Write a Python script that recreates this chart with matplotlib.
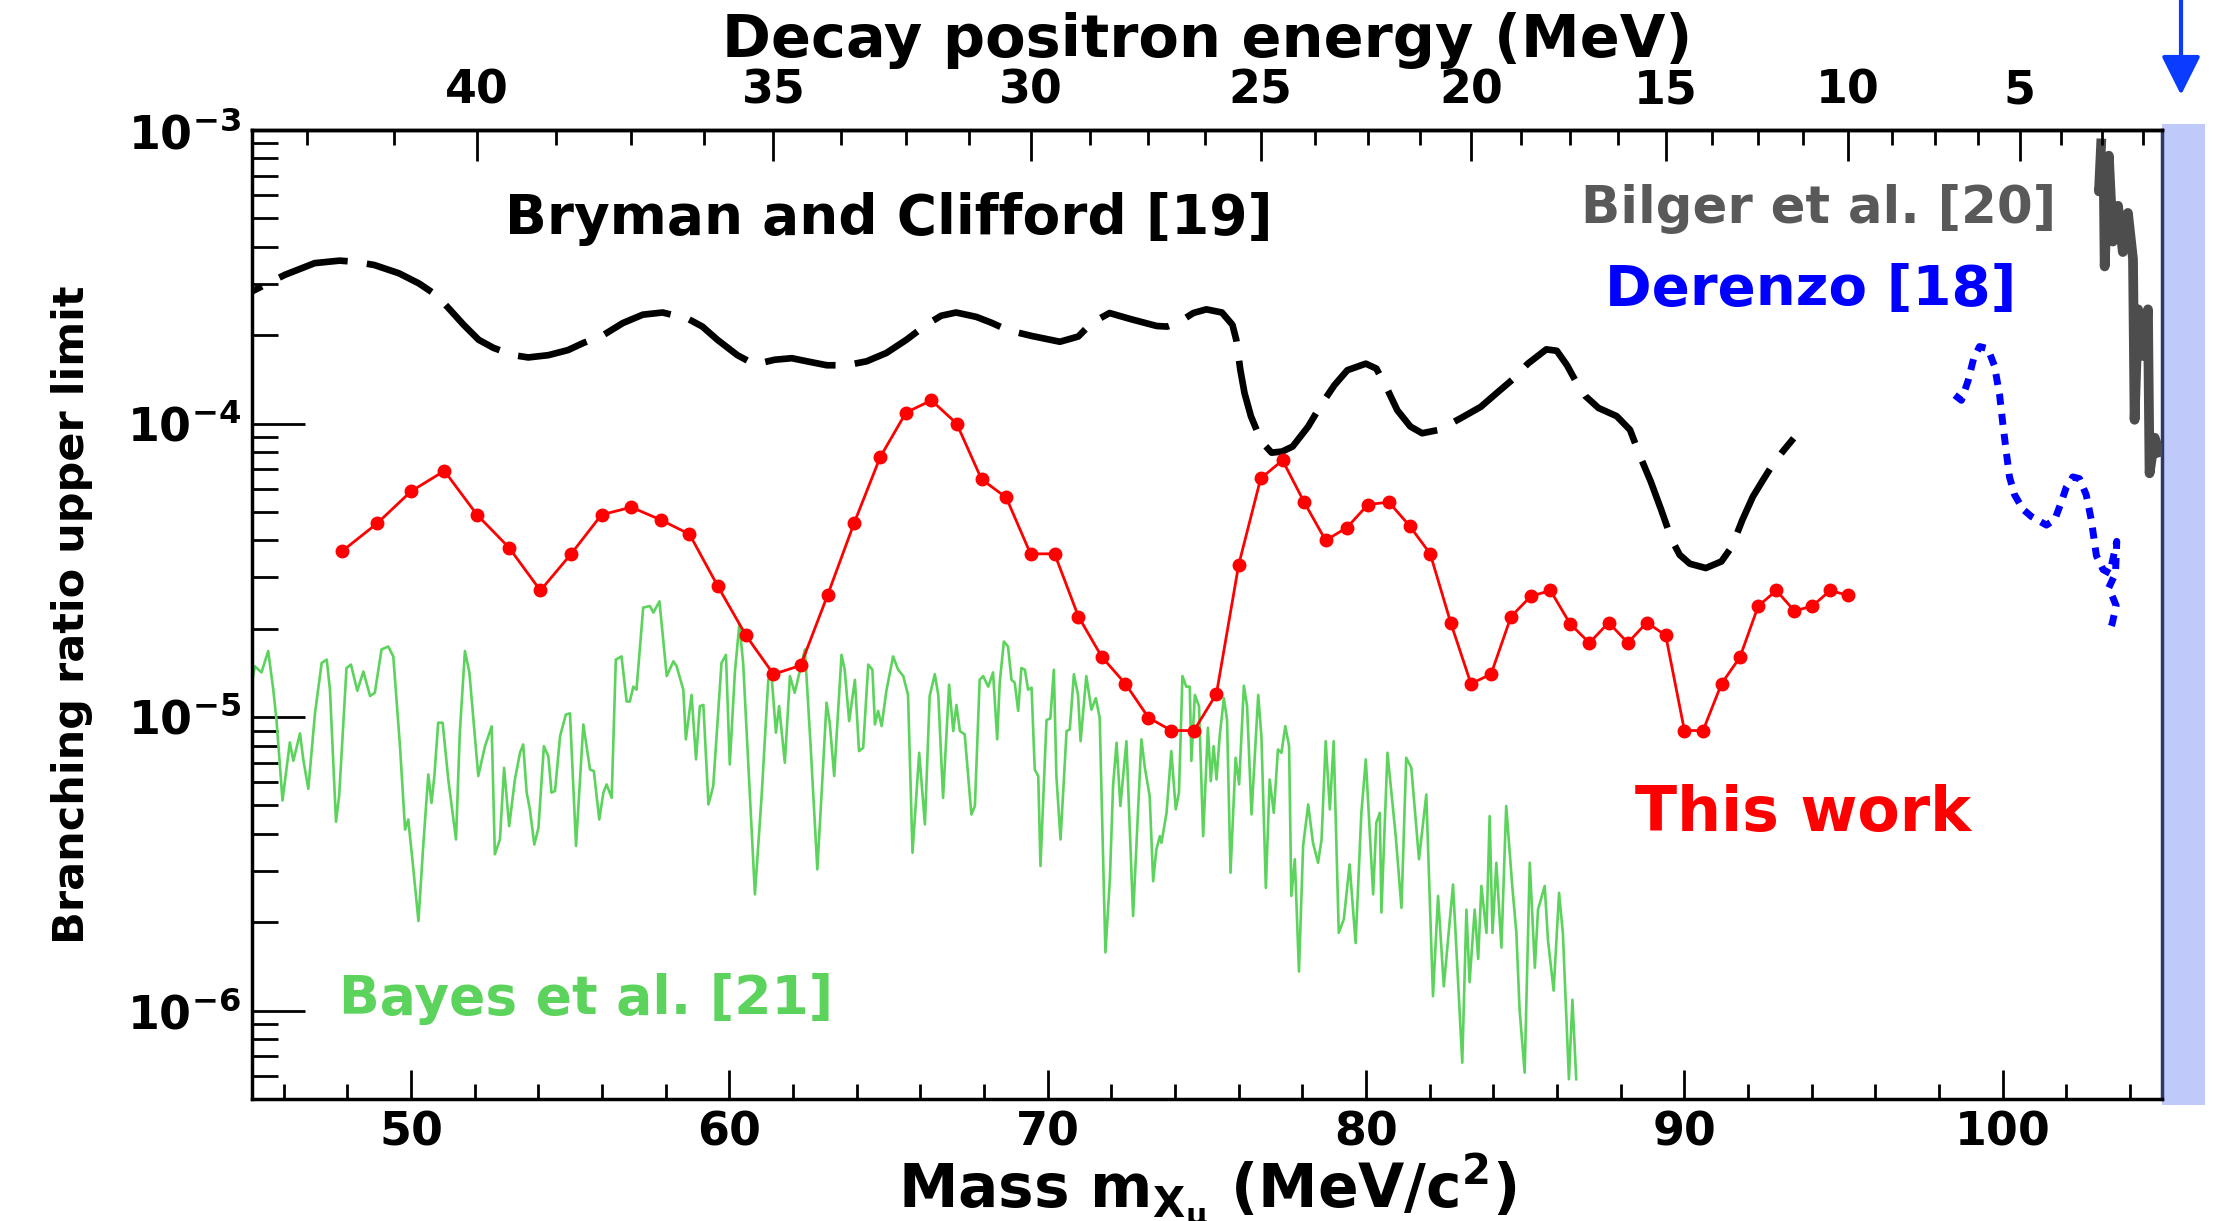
import numpy as np
import matplotlib
matplotlib.use("Agg")
import matplotlib.pyplot as plt
from matplotlib.ticker import MultipleLocator, LogLocator, NullFormatter

plt.rcParams['font.family'] = ['DejaVu Sans']
plt.rcParams['font.weight'] = 'bold'
plt.rcParams['axes.labelweight'] = 'bold'
plt.rcParams['mathtext.fontset'] = 'dejavusans'
plt.rcParams['mathtext.default'] = 'bf'

M_MU = 105.658
M_E = 0.511

# ---------------- data ----------------
# "This work": measured on a 0.5 MeV positron-energy grid
this_work_energy = np.arange(42.0, 9.75, -0.5)
this_work_limit = [3.68e-5, 4.57e-5, 5.88e-5, 6.9e-5, 4.89e-5, 3.78e-5, 2.70e-5, 3.6e-5, 4.89e-5, 5.19e-5,
                   4.70e-5, 4.2e-5, 2.79e-5, 1.90e-5, 1.40e-5, 1.50e-5, 2.60e-5, 4.57e-5, 7.68e-5, 1.09e-4,
                   1.2e-4, 1.0e-4, 6.46e-5, 5.6e-5, 3.6e-5, 3.6e-5, 2.2e-5, 1.6e-5, 1.30e-5, 9.96e-6,
                   9.0e-6, 9.0e-6, 1.2e-5, 3.3e-5, 6.5e-5, 7.5e-5, 5.4e-5, 4.0e-5, 4.42e-5, 5.3e-5,
                   5.4e-5, 4.48e-5, 3.6e-5, 2.1e-5, 1.3e-5, 1.4e-5, 2.2e-5, 2.58e-5, 2.7e-5, 2.08e-5,
                   1.79e-5, 2.1e-5, 1.79e-5, 2.1e-5, 1.9e-5, 9.0e-6, 9.0e-6, 1.3e-5, 1.6e-5, 2.39e-5,
                   2.7e-5, 2.3e-5, 2.39e-5, 2.7e-5, 2.6e-5]

bryman_mass = [45.00, 46.03, 46.97, 47.75, 48.22, 48.84, 49.62, 50.25, 50.79, 51.18,
               51.65, 52.12, 52.59, 53.22, 53.68, 54.31, 54.93, 55.40, 56.03, 56.65,
               57.28, 57.90, 58.68, 59.15, 59.62, 60.25, 60.79, 61.42, 61.96, 62.43,
               63.06, 63.68, 64.31, 64.93, 65.56, 66.18, 66.65, 67.12, 67.75, 68.21,
               68.75,
               69.48, 70.38, 70.96, 71.37, 71.94, 72.60, 73.42, 73.75, 74.08, 74.57,
               74.98, 75.47, 75.80, 75.92, 76.05, 76.18, 76.38, 76.71, 77.03, 77.36,
               77.69, 78.18, 78.59, 79.00, 79.41, 79.99, 80.32, 80.65, 80.98, 81.39,
               81.76, 82.29, 82.95, 83.60, 84.10, 84.59, 85.08, 85.66, 85.99, 86.31,
               86.56, 86.89, 87.30, 87.87, 88.29, 88.61, 88.94, 89.27, 89.60, 89.85,
               90.17, 90.67, 91.16, 91.49, 91.82, 92.15, 92.47, 92.80, 93.13, 93.43]
bryman_limit = [2.82e-4, 3.21e-4, 3.52e-4, 3.59e-4, 3.56e-4, 3.47e-4, 3.25e-4, 3.00e-4, 2.74e-4, 2.47e-4,
                2.17e-4, 1.93e-4, 1.81e-4, 1.71e-4, 1.68e-4, 1.71e-4, 1.78e-4, 1.88e-4, 2.00e-4, 2.20e-4,
                2.35e-4, 2.39e-4, 2.28e-4, 2.14e-4, 1.93e-4, 1.71e-4, 1.59e-4, 1.65e-4, 1.67e-4, 1.63e-4,
                1.58e-4, 1.58e-4, 1.63e-4, 1.74e-4, 1.93e-4, 2.17e-4, 2.33e-4, 2.39e-4, 2.31e-4, 2.21e-4,
                2.08e-4,
                1.99e-4, 1.90e-4, 1.98e-4, 2.20e-4, 2.38e-4, 2.27e-4, 2.15e-4, 2.14e-4, 2.20e-4, 2.38e-4,
                2.45e-4, 2.39e-4, 2.17e-4, 1.93e-4, 1.52e-4, 1.27e-4, 1.06e-4, 8.69e-5, 7.96e-5, 8.03e-5,
                8.35e-5, 9.77e-5, 1.16e-4, 1.35e-4, 1.52e-4, 1.60e-4, 1.54e-4, 1.32e-4, 1.11e-4, 9.77e-5,
                9.27e-5, 9.52e-5, 1.04e-4, 1.14e-4, 1.27e-4, 1.41e-4, 1.60e-4, 1.79e-4, 1.77e-4, 1.58e-4,
                1.41e-4, 1.24e-4, 1.13e-4, 1.06e-4, 9.52e-5, 7.72e-5, 6.35e-5, 5.08e-5, 4.02e-5, 3.57e-5,
                3.33e-5, 3.22e-5, 3.39e-5, 3.81e-5, 4.70e-5, 5.64e-5, 6.43e-5, 7.33e-5, 8.14e-5, 8.91e-5]

bayes_mass = [45.00, 45.09, 45.30, 45.51, 45.67, 45.77, 45.96, 46.19, 46.30, 46.51,
              46.61, 46.77, 46.98, 47.19, 47.35, 47.45, 47.64, 47.74, 47.97, 48.11,
              48.31, 48.50, 48.71, 48.86, 49.07, 49.28, 49.44, 49.65, 49.81, 49.91,
              50.05, 50.23, 50.38, 50.54, 50.64, 50.73, 50.85, 50.99, 51.17, 51.41,
              51.53, 51.69, 51.83, 52.11, 52.32, 52.53, 52.63, 52.79, 52.92, 53.08,
              53.26, 53.42, 53.52, 53.63, 53.73, 53.87, 54.00, 54.17, 54.31, 54.41,
              54.52, 54.68, 54.86, 54.99, 55.18, 55.41, 55.62, 55.74, 55.91, 56.04,
              56.14, 56.30, 56.43, 56.61, 56.77, 56.87, 56.98, 57.08, 57.29, 57.50,
              57.61, 57.80, 58.03, 58.24, 58.34, 58.55, 58.63, 58.81, 58.95, 59.07,
              59.18, 59.34,
              59.49, 59.75, 59.89, 60.01, 60.17, 60.31, 60.43, 60.80, 61.01, 61.22,
              61.32, 61.46, 61.56, 61.74, 61.90, 62.05, 62.37, 62.55, 62.76, 62.89,
              63.05, 63.15, 63.29, 63.52, 63.62, 63.76, 63.94, 64.07, 64.20, 64.36,
              64.49, 64.57, 64.67, 64.78, 64.93, 65.14, 65.30, 65.46, 65.61, 65.75,
              65.96, 66.14, 66.29, 66.45, 66.56, 66.71, 66.90, 67.03, 67.13, 67.24,
              67.39, 67.60, 67.71, 67.86, 67.97, 68.13, 68.28, 68.41, 68.49, 68.62,
              68.75, 68.86, 68.96, 69.07, 69.17, 69.28, 69.38, 69.49, 69.59, 69.70,
              69.77, 69.96, 70.08, 70.19, 70.27, 70.40, 70.59, 70.69, 70.82, 70.95,
              71.03, 71.21, 71.37, 71.51, 71.63, 71.81, 71.95, 72.05, 72.16, 72.28,
              72.47, 72.68, 72.94, 73.05, 73.20, 73.31, 73.41, 73.52,
              73.57, 73.73, 73.88, 74.02, 74.12, 74.23, 74.35, 74.46, 74.51, 74.62,
              74.75, 74.88, 75.03, 75.12, 75.21, 75.30, 75.40, 75.53, 75.63, 75.74,
              75.90, 76.01, 76.16, 76.26, 76.40, 76.61, 76.71, 76.85, 76.97, 77.10,
              77.23, 77.34, 77.46, 77.58, 77.65, 77.76, 77.89, 78.02, 78.18, 78.33,
              78.49, 78.60, 78.73, 78.86, 78.98, 79.14, 79.30, 79.48, 79.67, 79.85,
              79.99, 80.22, 80.32, 80.43, 80.48, 80.67, 80.93, 81.11, 81.26, 81.42,
              81.66, 81.89, 82.10, 82.26, 82.44, 82.73, 83.02, 83.15, 83.25, 83.41,
              83.52, 83.62, 83.78, 83.88, 83.97, 84.09, 84.25, 84.40, 84.59, 84.72,
              84.82, 84.98, 85.14, 85.30, 85.40, 85.61, 85.71, 85.89, 86.06, 86.18,
              86.37, 86.48, 86.60]
bayes_limit = [1.31e-5, 1.49e-5, 1.42e-5, 1.68e-5, 1.24e-5, 9.8e-6, 5.2e-6, 8.2e-6, 7.1e-6, 8.8e-6,
               7.2e-6, 5.7e-6, 1.03e-5, 1.53e-5, 1.57e-5, 1.24e-5, 4.4e-6, 5.4e-6, 1.47e-5, 1.51e-5,
               1.23e-5, 1.43e-5, 1.18e-5, 1.21e-5, 1.70e-5, 1.74e-5, 1.61e-5, 7.96e-6, 4.14e-6, 4.48e-6,
               3.19e-6, 2.02e-6, 3.64e-6, 6.38e-6, 5.1e-6, 6.3e-6, 9.57e-6, 9.57e-6, 6.1e-6, 3.83e-6,
               8.87e-6, 1.68e-5, 1.42e-5, 6.3e-6, 7.96e-6, 9.3e-6, 3.41e-6, 3.83e-6, 6.72e-6, 4.25e-6,
               6.13e-6, 7.56e-6, 8.07e-6, 5.53e-6, 4.85e-6, 3.68e-6, 4.2e-6, 7.96e-6, 7.36e-6, 5.53e-6,
               5.6e-6, 8.62e-6, 1.02e-5, 1.03e-5, 3.64e-6, 9.44e-6, 6.63e-6, 6.55e-6, 4.48e-6, 5.53e-6,
               5.9e-6, 5.31e-6, 1.57e-5, 1.61e-5, 1.13e-5, 1.13e-5, 1.27e-5, 1.24e-5, 2.36e-5, 2.39e-5,
               2.27e-5, 2.48e-5, 1.38e-5, 1.55e-5, 1.49e-5, 1.24e-5, 8.4e-6, 1.19e-5, 7.18e-6, 1.09e-5,
               1.10e-5, 5.04e-6,
               5.82e-6, 1.53e-5, 1.63e-5, 6.9e-6, 1.42e-5, 2.07e-5, 1.53e-5, 2.49e-6, 5.38e-6, 1.34e-5,
               1.40e-5, 8.85e-6, 1.09e-5, 6.99e-6, 1.38e-5, 1.21e-5, 1.70e-5, 7.96e-6, 3.03e-6, 5.38e-6,
               1.12e-5, 9.57e-6, 6.3e-6, 1.63e-5, 1.45e-5, 9.69e-6, 1.34e-5, 7.66e-6, 7.86e-6, 1.51e-5,
               1.45e-5, 9.44e-6, 1.05e-5, 9.32e-6, 1.23e-5, 1.61e-5, 1.45e-5, 1.38e-5, 1.19e-5, 3.45e-6,
               7.56e-6, 4.31e-6, 1.18e-5, 1.40e-5, 1.19e-5, 5.31e-6, 1.29e-5, 8.96e-6, 1.10e-5, 8.96e-6,
               8.73e-6, 4.66e-6, 4.98e-6, 1.34e-5, 1.38e-5, 1.27e-5, 1.42e-5, 8.4e-6, 1.31e-5, 1.81e-5,
               1.74e-5, 1.34e-5, 1.31e-5, 1.05e-5, 1.47e-5, 1.45e-5, 1.24e-5, 1.26e-5, 6.63e-6, 6.3e-6,
               3.11e-6, 9.77e-6, 9.9e-6, 1.45e-5, 6.3e-6, 3.83e-6, 8.96e-6, 9.08e-6, 1.40e-5, 1.19e-5,
               8.28e-6, 1.38e-5, 1.06e-5, 1.16e-5, 9.95e-6, 1.58e-6, 2.80e-6, 5.82e-6, 8.18e-6, 4.98e-6,
               8.28e-6, 2.10e-6, 8.4e-6, 6.72e-6, 5.38e-6, 2.76e-6, 3.54e-6, 3.93e-6,
               3.73e-6, 4.72e-6, 7.66e-6, 4.85e-6, 5.53e-6, 1.38e-5, 1.27e-5, 1.27e-5, 7.09e-6, 1.19e-5,
               1.09e-5, 3.93e-6, 9.2e-6, 6.05e-6, 7.96e-6, 6.13e-6, 8.62e-6, 1.16e-5, 9.82e-6, 2.95e-6,
               7.27e-6, 5.9e-6, 1.28e-5, 1.09e-5, 4.66e-6, 1.19e-5, 8.62e-6, 2.62e-6, 6.13e-6, 4.72e-6,
               7.76e-6, 7.56e-6, 9.32e-6, 7.96e-6, 2.46e-6, 3.28e-6, 1.36e-6, 3.64e-6, 5.04e-6, 3.73e-6,
               3.19e-6, 3.83e-6, 8.28e-6, 4.85e-6, 8.28e-6, 1.84e-6, 2.05e-6, 3.15e-6, 1.70e-6, 4.72e-6,
               7.18e-6, 2.49e-6, 4.37e-6, 4.72e-6, 2.16e-6, 7.56e-6, 3.93e-6, 2.24e-6, 7.27e-6, 6.72e-6,
               3.28e-6, 5.45e-6, 1.12e-6, 2.46e-6, 1.21e-6, 2.69e-6, 6.65e-7, 2.21e-6, 1.25e-6, 2.21e-6,
               1.50e-6, 2.66e-6, 1.84e-6, 4.60e-6, 1.84e-6, 3.19e-6, 1.64e-6, 4.98e-6, 2.66e-6, 1.84e-6,
               1.01e-6, 6.15e-7, 3.19e-6, 1.40e-6, 2.21e-6, 2.66e-6, 1.75e-6, 1.17e-6, 2.52e-6, 1.84e-6,
               5.84e-7, 1.09e-6, 5.84e-7]

derenzo_mass = [98.49, 98.70, 98.91, 99.08, 99.27, 99.53, 99.74, 99.90, 100.00, 100.11,
                100.21, 100.37, 100.63, 100.89, 101.37, 101.63, 101.84, 101.99, 102.20, 102.41,
                102.62, 102.78, 102.94, 103.15, 103.36, 103.58, 103.54, 103.33, 103.56, 103.44,
                103.36]
derenzo_limit = [1.25e-4, 1.20e-4, 1.40e-4, 1.66e-4, 1.83e-4, 1.80e-4, 1.57e-4, 1.25e-4, 1.00e-4, 8.0e-5,
                 6.58e-5, 5.72e-5, 5.11e-5, 4.83e-5, 4.51e-5, 4.70e-5, 5.41e-5, 6.05e-5, 6.58e-5, 6.49e-5,
                 5.72e-5, 4.70e-5, 3.55e-5, 3.18e-5, 3.09e-5, 3.97e-5, 3.09e-5, 2.76e-5, 2.40e-5, 2.09e-5,
                 1.97e-5]

bilger_mass = [103.09, 103.02, 103.17, 103.20, 103.33, 103.46, 103.62, 103.77, 103.93, 104.09,
               104.14, 104.25, 104.40, 104.56, 104.61, 104.77, 104.92]
bilger_limit = [9.0e-4, 6.18e-4, 7.11e-4, 3.43e-4, 8.18e-4, 4.17e-4, 5.52e-4, 3.84e-4, 5.22e-4, 3.63e-4,
                1.03e-4, 2.45e-4, 1.70e-4, 2.45e-4, 6.77e-5, 8.95e-5, 8.0e-5]

energy_major = [40, 35, 30, 25, 20, 15, 10, 5]
energy_minor = [42.5, 41.25, 38.75, 37.5, 36.25, 33.75, 32.5, 31.25, 28.75, 27.5, 26.25,
                23.75, 22.5, 21.25, 18.75, 17.5, 16.25, 13.75, 12.5, 11.25, 8.75, 7.5, 6.25,
                3.75, 2.5, 1.25]


def energy_to_mass(E):
    E = np.asarray(E, dtype=float)
    return np.sqrt(np.clip(M_MU**2 + M_E**2 - 2.0 * M_MU * E, 0, None))


this_work_mass = energy_to_mass(this_work_energy)

# ---------------- figure ----------------
fig = plt.figure(figsize=(22.14, 12.21), dpi=100)
ax = fig.add_axes([0.1138, 0.0999, 0.8627, 0.7936])

ax.plot(bayes_mass, bayes_limit, color='#5cd35c', lw=1.9, zorder=2)
ax.plot(bryman_mass, bryman_limit, color='black', lw=4.8,
        linestyle=(9, (10.7, 2.9)), dash_capstyle='butt', zorder=3)
ax.plot(this_work_mass, this_work_limit, color='#ff0000', lw=2.0, marker='o',
        markersize=9, zorder=4)
ax.plot(derenzo_mass, derenzo_limit, color='#0000ff', lw=5,
        linestyle=(0, (1.6, 1.3)), dash_capstyle='butt', zorder=3)
ax.plot(bilger_mass, bilger_limit, color='#4d4d4d', lw=7, zorder=3)

ax.set_xlim(45, 105)
ax.set_yscale('log')
ax.set_ylim(5e-7, 1e-3)

# blue band beyond the muon mass
ax.axvspan(105, 106.35, ymin=-0.006, ymax=1.006, color='#bfcafa', clip_on=False,
           zorder=0.5, lw=0)

# ticks
ax.xaxis.set_major_locator(MultipleLocator(10))
ax.xaxis.set_minor_locator(MultipleLocator(2))
ax.yaxis.set_major_locator(LogLocator(base=10, numticks=10))
ax.yaxis.set_minor_locator(LogLocator(base=10, subs=np.arange(2, 10), numticks=20))
ax.yaxis.set_minor_formatter(NullFormatter())
ax.tick_params(axis='x', which='major', direction='in', length=21, width=2,
               labelsize=33, pad=8, top=False)
ax.tick_params(axis='x', which='minor', direction='in', length=11, width=2, top=False)
ax.tick_params(axis='y', which='major', direction='in', length=38, width=2,
               labelsize=33, pad=8, right=False)
ax.tick_params(axis='y', which='minor', direction='in', length=19, width=2, right=False)

for s in ['left', 'bottom', 'top']:
    ax.spines[s].set_linewidth(2.5)
ax.spines['right'].set_linewidth(2.5)
ax.spines['right'].set_color('#2b3a6b')

# top axis: decay positron energy
ax2 = ax.twiny()
ax2.set_xlim(ax.get_xlim())
ax2.set_xticks(energy_to_mass(energy_major))
ax2.set_xticklabels([str(e) for e in energy_major])
ax2.set_xticks(energy_to_mass(energy_minor), minor=True)
ax2.tick_params(axis='x', which='major', direction='in', length=22, width=2,
                labelsize=33, pad=12)
ax2.tick_params(axis='x', which='minor', direction='in', length=11, width=2)
for s in ['left', 'right', 'bottom']:
    ax2.spines[s].set_visible(False)
ax2.spines['top'].set_linewidth(2.5)
ax2.set_xlabel('Decay positron energy (MeV)', fontsize=42.5, labelpad=8)

ax.set_xlabel(r'Mass m$_{\mathbf{X}_{\mu}}$ (MeV/c$^{\mathbf{2}}$)', fontsize=43, labelpad=-2)
ax.set_ylabel('Branching ratio upper limit', fontsize=31)
ax.yaxis.set_label_coords(-0.094, 0.5)
ax.yaxis.label.set_verticalalignment('center')

# annotations
ax.text(52.96, 4.43e-4, 'Bryman and Clifford [19]', fontsize=39.5, color='black',
        ha='left', va='baseline')
ax.text(86.75, 4.82e-4, 'Bilger et al. [20]', fontsize=37, color='#595959',
        ha='left', va='baseline')
ax.text(87.5, 2.54e-4, 'Derenzo [18]', fontsize=40.5, color='#0000ff',
        ha='left', va='baseline')
ax.text(88.44, 4.08e-6, 'This work', fontsize=44.5, color='#ff0000',
        ha='left', va='baseline')
ax.text(47.73, 9.77e-7, 'Bayes et al. [21]', fontsize=38.5, color='#5cd35c',
        ha='left', va='baseline')

# arrow marking the muon mass
ax.annotate('', xy=(2181 / 2214, 1 - 95 / 1221), xytext=(2181 / 2214, 1.01),
            xycoords='figure fraction', textcoords='figure fraction',
            arrowprops=dict(arrowstyle='-|>', lw=3, color='#0a3cff',
                            mutation_scale=60, shrinkA=0, shrinkB=0))

fig.savefig('out.png', dpi=100)
